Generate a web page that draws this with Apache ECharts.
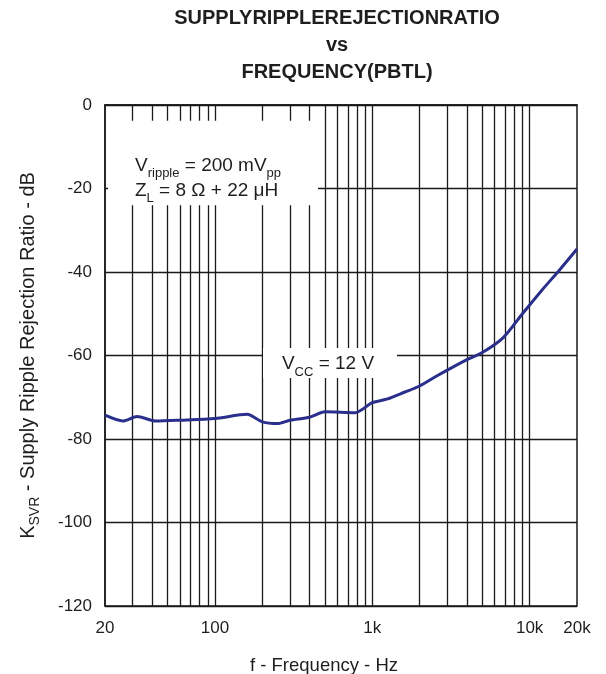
<!DOCTYPE html>
<html>
<head>
<meta charset="utf-8">
<script src="https://cdn.jsdelivr.net/npm/echarts@6/dist/echarts.min.js"></script>
<style>
  html, body { margin: 0; padding: 0; background: #ffffff; }
  #chart { width: 606px; height: 674px; }
</style>
</head>
<body>
<div id="chart"></div>
<script>
// Supply ripple rejection ratio vs frequency (PBTL), Vcc = 12 V
const freqHz = [20, 26, 32, 42, 60, 100, 160, 200, 250, 300, 400, 500, 780, 1000, 1250, 1600, 2000, 2600, 3100, 4000, 5000, 6800, 9000, 12000, 15500, 20000];
const ksvrDb = [-74.3, -75.7, -74.6, -75.7, -75.5, -75.1, -74.1, -75.9, -76.3, -75.5, -74.8, -73.5, -73.7, -71.3, -70.4, -68.8, -67.3, -64.8, -63.2, -61.0, -59.3, -55.7, -50.0, -44.3, -39.5, -34.5];

// Decade grid (1-2-...-9 per decade) and axis labels
const gridFreqs = [30, 40, 50, 60, 70, 80, 90, 100, 200, 300, 400, 500, 600, 700, 800, 900, 1000,
                   2000, 3000, 4000, 5000, 6000, 7000, 8000, 9000, 10000];
const xLabelFreqs = [20, 100, 1000, 10000, 20000];
const yTicks = [0, -20, -40, -60, -80, -100, -120];

const titleLines = ['SUPPLYRIPPLEREJECTIONRATIO', 'vs', 'FREQUENCY(PBTL)'];

// Annotation boxes (frequency / dB extents) that blank the grid behind their text
const condBox = { f: [20.9, 452], db: [-3.8, -24] };
const vccBox = { f: [202, 1436], db: [-58.2, -65.4] };

const FONT = '"Liberation Sans", Arial, Helvetica, sans-serif';
const INK = '#1e1e1e';
const GRIDC = '#1a1a1a';

function subRich(size, lh) {
  return {
    n: { fontSize: size, lineHeight: lh, fontFamily: FONT, color: INK },
    s: { fontSize: Math.round(size * 0.68), lineHeight: lh, fontFamily: FONT, color: INK,
         verticalAlign: 'bottom', padding: [0, 0, -2, 0] }
  };
}

function fmtHz(v) {
  if (v >= 1000) return (v / 1000) + 'k';
  return String(v);
}

const chart = echarts.init(document.getElementById('chart'), null, { renderer: 'canvas' });

chart.setOption({
  backgroundColor: '#ffffff',
  animation: false,
  textStyle: { fontFamily: FONT },
  graphic: titleLines.map((t, i) => ({
    type: 'text',
    x: 337,
    y: 18 + i * 27,
    style: {
      text: t,
      fill: INK,
      font: 'bold 20px ' + FONT,
      textAlign: 'center',
      textVerticalAlign: 'middle'
    }
  })),
  grid: {
    left: 105, right: 29, top: 105, bottom: 68,
    outerBoundsMode: 'none',
    containLabel: false,
    show: true, borderColor: GRIDC, borderWidth: 1.5, backgroundColor: 'transparent'
  },
  xAxis: {
    type: 'log',
    logBase: 10,
    min: 20,
    max: 20000,
    name: 'f - Frequency - Hz',
    nameLocation: 'middle',
    nameGap: 50,
    nameTextStyle: { fontSize: 18.5, color: INK, fontFamily: FONT, padding: [0, 34, 0, 0] },
    axisLine: { show: true, lineStyle: { color: GRIDC, width: 1.5 } },
    axisTick: { show: false },
    splitLine: { show: false },
    minorTick: { show: false },
    minorSplitLine: { show: false },
    axisLabel: {
      customValues: xLabelFreqs,
      formatter: fmtHz,
      fontSize: 17,
      color: INK,
      margin: 14,
      showMinLabel: true,
      showMaxLabel: true
    }
  },
  yAxis: {
    type: 'value',
    min: -120,
    max: 0,
    interval: 20,
    name: '{n|K}{s|SVR}{n| - Supply Ripple Rejection Ratio - dB}',
    nameLocation: 'middle',
    nameRotate: 90,
    nameGap: 65,
    nameTextStyle: { rich: subRich(20, 24) },
    axisLine: { show: true, lineStyle: { color: GRIDC, width: 1.5 } },
    axisTick: { show: false },
    splitLine: { show: true, lineStyle: { color: GRIDC, width: 1.3 } },
    axisLabel: {
      customValues: yTicks,
      fontSize: 17,
      color: INK,
      margin: 13
    }
  },
  series: [
    {
      // vertical log-decade grid lines
      type: 'line',
      data: [],
      silent: true,
      markLine: {
        z: 1,
        silent: true,
        symbol: ['none', 'none'],
        label: { show: false },
        lineStyle: { color: GRIDC, width: 1.3, type: 'solid' },
        emphasis: { disabled: true },
        data: gridFreqs.map(f => ({ xAxis: f }))
      }
    },
    {
      // annotation boxes
      type: 'line',
      data: [],
      silent: true,
      markArea: {
        z: 2,
        silent: true,
        itemStyle: { color: '#ffffff', opacity: 1 },
        emphasis: { disabled: true },
        label: { show: true },
        data: [
          [
            {
              xAxis: condBox.f[0], yAxis: condBox.db[0],
              label: {
                show: true,
                position: [27, 32],
                rich: subRich(19, 25),
                formatter: '{n|V}{s|ripple}{n| = 200 mV}{s|pp}\n{n|Z}{s|L}{n| = 8 Ω + 22 μH}'
              }
            },
            { xAxis: condBox.f[1], yAxis: condBox.db[1] }
          ],
          [
            {
              xAxis: vccBox.f[0], yAxis: vccBox.db[0],
              label: {
                show: true,
                position: 'inside',
                offset: [-2, 1],
                rich: subRich(19, 25),
                formatter: '{n|V}{s|CC}{n| = 12 V}'
              }
            },
            { xAxis: vccBox.f[1], yAxis: vccBox.db[1] }
          ]
        ]
      }
    },
    {
      name: 'VCC = 12 V',
      type: 'line',
      z: 3,
      data: freqHz.map((f, i) => [f, ksvrDb[i]]),
      showSymbol: false,
      smooth: 0.25,
      lineStyle: { color: '#2b2f8c', width: 3 }
    }
  ]
});
</script>
</body>
</html>
